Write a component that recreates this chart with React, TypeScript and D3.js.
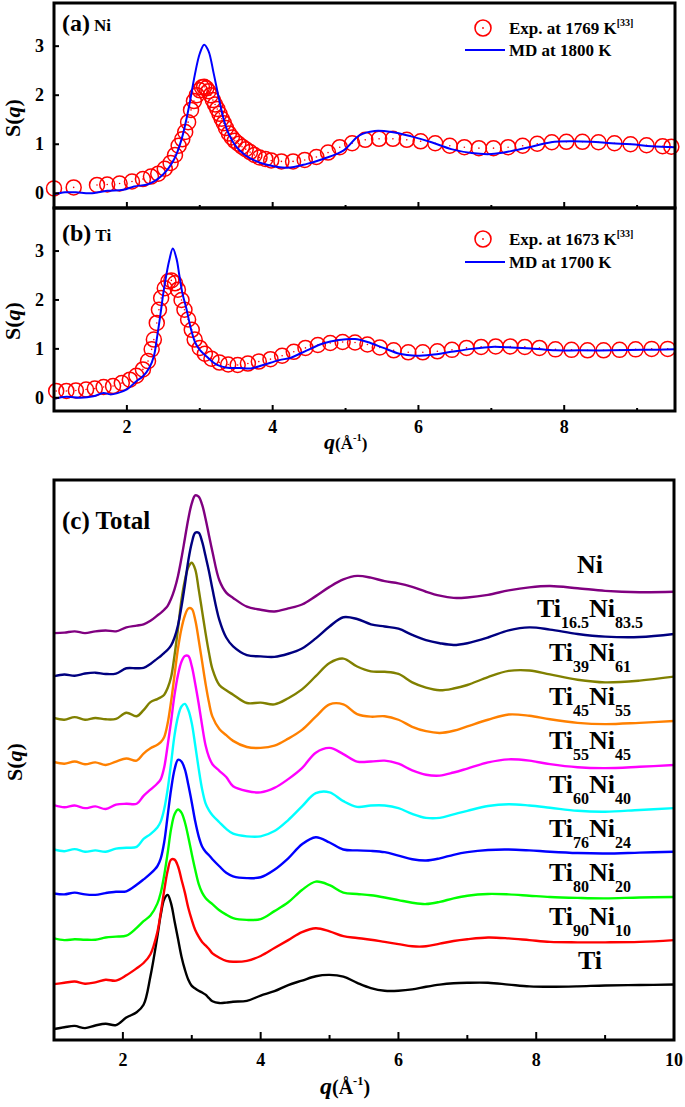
import React from "react";
import * as d3 from "d3";

// ---------------- Data ----------------
// Panel (a) Ni
const qNiExp = [1.0,1.27,1.59,1.73,1.9,2.07,2.22,2.33,2.43,2.52,2.6,2.66,2.71,2.76,2.8,2.84,2.88,2.92,2.96,3.0,3.03,3.06,3.09,3.12,3.15,3.18,3.21,3.24,3.27,3.3,3.33,3.36,3.4,3.44,3.48,3.53,3.58,3.63,3.69,3.75,3.82,3.9,3.98,4.12,4.28,4.44,4.6,4.76,4.92,5.09,5.27,5.46,5.65,5.84,6.03,6.23,6.43,6.63,6.83,7.03,7.23,7.43,7.63,7.83,8.03,8.25,8.47,8.69,8.91,9.13,9.35,9.47];
const sNiExp = [0.1,0.12,0.17,0.18,0.2,0.24,0.29,0.34,0.4,0.5,0.62,0.78,0.97,1.1,1.25,1.45,1.7,1.88,2.0,2.1,2.16,2.17,2.14,2.08,2.0,1.9,1.81,1.72,1.62,1.52,1.43,1.33,1.22,1.14,1.07,1.01,0.95,0.9,0.84,0.78,0.73,0.7,0.67,0.65,0.65,0.68,0.74,0.83,0.94,1.02,1.09,1.11,1.11,1.09,1.06,1.02,0.97,0.94,0.92,0.92,0.94,0.97,1.01,1.04,1.05,1.05,1.04,1.02,1.0,0.98,0.96,0.95];
const qNiMD = [1.0,1.15,1.3,1.5,1.73,1.95,2.1,2.3,2.5,2.65,2.75,2.85,2.93,3.0,3.06,3.12,3.19,3.26,3.33,3.4,3.5,3.62,3.75,3.92,4.2,4.47,4.69,4.97,5.19,5.4,5.63,5.9,6.18,6.45,6.73,7.0,7.27,7.55,7.82,8.1,8.37,8.65,8.92,9.2,9.52];
const sNiMD = [-0.02,0.02,0.02,0.0,0.05,0.07,0.14,0.19,0.39,0.7,1.1,1.75,2.4,2.85,3.03,2.9,2.45,1.95,1.5,1.2,0.95,0.78,0.67,0.58,0.52,0.6,0.7,0.87,1.18,1.27,1.25,1.16,1.04,0.9,0.82,0.8,0.86,0.95,1.04,1.06,1.05,1.02,1.0,0.96,0.94];

// Panel (b) Ti
const qTiExp = [1.03,1.17,1.3,1.44,1.56,1.68,1.81,1.93,2.04,2.13,2.22,2.29,2.34,2.37,2.41,2.44,2.47,2.52,2.57,2.61,2.66,2.7,2.75,2.79,2.84,2.89,2.93,3.0,3.07,3.16,3.27,3.39,3.52,3.66,3.81,3.97,4.13,4.29,4.45,4.62,4.79,4.96,5.13,5.3,5.47,5.66,5.86,6.06,6.26,6.46,6.66,6.86,7.06,7.26,7.46,7.66,7.88,8.1,8.32,8.54,8.76,8.98,9.2,9.42];
const sTiExp = [0.14,0.14,0.15,0.17,0.19,0.22,0.24,0.3,0.37,0.45,0.58,0.75,0.99,1.19,1.53,1.8,2.04,2.24,2.38,2.4,2.34,2.21,2.0,1.8,1.6,1.39,1.19,1.02,0.9,0.8,0.72,0.68,0.67,0.7,0.74,0.79,0.86,0.94,1.02,1.08,1.12,1.14,1.13,1.09,1.03,0.97,0.93,0.93,0.95,0.98,1.02,1.04,1.05,1.05,1.04,1.02,0.99,0.98,0.97,0.97,0.98,0.99,1.0,1.0];
const qTiMD = [1.0,1.17,1.36,1.54,1.68,1.77,1.86,2.0,2.13,2.22,2.31,2.37,2.41,2.46,2.5,2.54,2.58,2.63,2.68,2.72,2.76,2.82,2.88,2.94,3.0,3.09,3.23,3.41,3.55,3.7,3.87,4.09,4.25,4.47,4.69,4.91,5.13,5.3,5.52,5.74,5.96,6.18,6.45,6.73,7.0,7.27,7.55,7.88,8.2,8.65,9.08,9.52];
const sTiMD = [-0.02,0.02,0.0,0.03,0.1,0.07,0.09,0.17,0.34,0.44,0.62,0.85,1.2,1.7,2.14,2.5,2.8,3.05,2.85,2.5,2.15,1.8,1.4,1.12,0.98,0.85,0.68,0.61,0.61,0.6,0.67,0.77,0.82,0.97,1.11,1.18,1.2,1.14,1.02,0.9,0.86,0.88,0.94,1.0,1.04,1.03,1.01,0.97,0.97,0.97,0.98,0.99];

// Panel (c) total S(q), common q grid
const qTotal = [1.0,1.15,1.3,1.45,1.6,1.75,1.9,2.05,2.2,2.3,2.4,2.5,2.55,2.6,2.65,2.7,2.75,2.8,2.85,2.9,2.95,3.0,3.05,3.1,3.15,3.2,3.25,3.3,3.4,3.5,3.6,3.8,4.0,4.2,4.4,4.6,4.8,5.0,5.2,5.4,5.6,5.8,6.0,6.2,6.4,6.6,6.8,7.0,7.3,7.6,7.9,8.2,8.6,9.0,9.5,10.0];
const sTi = [0.0,0.04,0.07,0.02,0.08,0.12,0.09,0.26,0.38,0.55,1.2,2.1,2.6,2.95,3.05,2.85,2.45,2.05,1.65,1.35,1.12,0.98,0.92,0.87,0.83,0.78,0.7,0.63,0.59,0.6,0.62,0.64,0.76,0.86,1.0,1.1,1.2,1.23,1.19,1.05,0.93,0.87,0.87,0.9,0.96,1.01,1.04,1.05,1.05,1.01,0.97,0.96,0.97,0.99,1.0,1.01];
const sTi90Ni10 = [0.02,0.05,0.08,0.03,0.06,0.12,0.1,0.22,0.38,0.5,0.7,1.2,1.65,2.15,2.6,2.85,2.85,2.7,2.4,2.1,1.75,1.48,1.25,1.1,0.98,0.9,0.82,0.72,0.62,0.55,0.53,0.55,0.66,0.84,1.02,1.2,1.29,1.22,1.11,1.07,1.03,0.98,0.93,0.88,0.88,0.94,1.0,1.04,1.08,1.06,1.02,0.98,0.97,0.97,0.98,1.02];
const sTi80Ni20 = [0.06,0.02,0.04,0.03,0.03,0.08,0.1,0.12,0.3,0.45,0.58,0.85,1.1,1.5,2.0,2.55,2.88,2.99,2.92,2.7,2.36,1.98,1.62,1.3,1.1,0.98,0.9,0.84,0.7,0.6,0.52,0.48,0.5,0.68,0.88,1.16,1.35,1.27,1.1,1.07,1.04,0.99,0.93,0.87,0.84,0.89,0.97,1.03,1.07,1.06,1.03,1.0,0.98,0.97,0.99,1.0];
const sTi76Ni24 = [0.08,0.06,0.1,0.06,0.05,0.09,0.12,0.13,0.28,0.4,0.53,0.7,0.88,1.25,1.85,2.45,2.9,3.12,3.08,2.9,2.55,2.15,1.72,1.38,1.15,1.03,0.95,0.86,0.7,0.55,0.47,0.43,0.45,0.62,0.88,1.2,1.36,1.24,1.08,1.06,1.05,1.02,0.94,0.86,0.83,0.88,0.96,1.02,1.07,1.08,1.06,1.03,1.0,0.99,1.01,1.03];
const sTi60Ni40 = [0.08,0.04,0.09,0.03,0.06,0.03,0.1,0.12,0.14,0.32,0.43,0.58,0.72,1.0,1.45,2.05,2.68,3.1,3.33,3.39,3.25,2.95,2.45,1.92,1.45,1.13,0.97,0.86,0.7,0.55,0.44,0.38,0.38,0.5,0.75,1.06,1.36,1.38,1.18,1.05,1.08,1.08,1.02,0.89,0.8,0.8,0.88,0.96,1.07,1.11,1.08,1.03,0.96,0.94,0.98,1.02];
const sTi55Ni45 = [0.09,0.04,0.08,0.02,0.06,0.0,0.1,0.12,0.12,0.3,0.44,0.58,0.68,0.95,1.45,2.0,2.6,3.05,3.35,3.48,3.48,3.25,2.85,2.4,1.9,1.45,1.18,1.02,0.87,0.73,0.52,0.41,0.38,0.48,0.68,0.93,1.28,1.39,1.25,1.08,1.08,1.1,1.03,0.88,0.78,0.76,0.83,0.92,1.06,1.13,1.1,1.02,0.95,0.93,0.96,1.0];
const sTi45Ni55 = [0.07,0.03,0.08,0.02,0.06,0.0,0.08,0.15,0.1,0.26,0.38,0.46,0.52,0.64,0.95,1.45,2.05,2.65,3.1,3.4,3.56,3.55,3.3,2.85,2.35,1.85,1.42,1.1,0.82,0.68,0.55,0.41,0.39,0.44,0.6,0.8,1.1,1.38,1.38,1.16,1.1,1.11,1.03,0.87,0.77,0.73,0.78,0.88,1.03,1.15,1.12,1.04,0.96,0.93,0.96,1.0];
const sTi39Ni61 = [0.07,0.03,0.09,0.03,0.07,0.04,0.05,0.19,0.11,0.25,0.43,0.5,0.54,0.6,0.75,1.0,1.5,2.1,2.75,3.2,3.5,3.6,3.45,3.0,2.5,2.0,1.55,1.18,0.82,0.7,0.6,0.41,0.42,0.38,0.52,0.72,1.02,1.32,1.42,1.24,1.13,1.12,1.07,0.88,0.76,0.7,0.74,0.82,1.0,1.14,1.15,1.06,0.94,0.88,0.92,1.01];
const sTi16Ni83 = [0.02,0.06,0.03,0.08,0.1,0.07,0.08,0.2,0.2,0.21,0.3,0.42,0.48,0.55,0.62,0.72,0.9,1.18,1.6,2.1,2.65,3.05,3.28,3.28,3.08,2.75,2.4,2.0,1.3,0.9,0.7,0.5,0.47,0.46,0.53,0.65,0.88,1.15,1.36,1.32,1.2,1.15,1.1,0.96,0.84,0.77,0.73,0.77,0.9,1.06,1.13,1.08,0.98,0.92,0.91,0.98];
const sNi = [0.0,0.01,0.04,0.0,0.04,0.06,0.04,0.13,0.17,0.2,0.28,0.4,0.46,0.53,0.62,0.78,1.0,1.3,1.7,2.15,2.6,2.95,3.13,3.1,2.92,2.6,2.22,1.85,1.2,0.92,0.8,0.6,0.53,0.49,0.56,0.65,0.84,1.05,1.22,1.3,1.26,1.18,1.13,1.05,0.94,0.85,0.8,0.81,0.87,0.97,1.04,1.07,1.02,0.96,0.93,0.94];

// bottom-to-top order; each curve is shifted up by its index
const totalSeries = [
  { a: "Ti", as: "", b: "", bs: "", values: sTi, color: "#000000" },
  { a: "Ti", as: "90", b: "Ni", bs: "10", values: sTi90Ni10, color: "#FF0000" },
  { a: "Ti", as: "80", b: "Ni", bs: "20", values: sTi80Ni20, color: "#00FF00" },
  { a: "Ti", as: "76", b: "Ni", bs: "24", values: sTi76Ni24, color: "#0000FF" },
  { a: "Ti", as: "60", b: "Ni", bs: "40", values: sTi60Ni40, color: "#00FFFF" },
  { a: "Ti", as: "55", b: "Ni", bs: "45", values: sTi55Ni45, color: "#FF00FF" },
  { a: "Ti", as: "45", b: "Ni", bs: "55", values: sTi45Ni55, color: "#FF8000" },
  { a: "Ti", as: "39", b: "Ni", bs: "61", values: sTi39Ni61, color: "#808000" },
  { a: "Ti", as: "16.5", b: "Ni", bs: "83.5", values: sTi16Ni83, color: "#000080" },
  { a: "Ni", as: "", b: "", bs: "", values: sNi, color: "#800080" },
];

const xMajorAB = [2, 4, 6, 8];
const xMinorAB = [3, 5, 7, 9];
const yMajorAB = [0, 1, 2, 3];
const xMajorC = [2, 4, 6, 8, 10];
const xMinorC = [3, 5, 7, 9];

const FONT = "'Liberation Serif','Times New Roman',Times,serif";

function pathOf(xs: number[], ys: number[], xs_: any, ys_: any, off = 0) {
  const n = Math.min(xs.length, ys.length);
  const pts: [number, number][] = [];
  for (let i = 0; i < n; i++) pts.push([xs[i], ys[i] + off]);
  return d3
    .line<[number, number]>()
    .x((d) => xs_(d[0]))
    .y((d) => ys_(d[1]))
    .curve(d3.curveCatmullRom.alpha(0.5))(pts) as string;
}

function YLabel({ x, y }: { x: number; y: number }) {
  return (
    <text
      transform={`translate(${x},${y}) rotate(-90)`}
      textAnchor="middle"
      fontFamily={FONT}
      fontWeight="bold"
      fontSize={22}
    >
      S(<tspan fontStyle="italic">q</tspan>)
    </text>
  );
}

function XLabel({ x, y, big, small }: { x: number; y: number; big: number; small: number }) {
  return (
    <text x={x} y={y} fontFamily={FONT} fontWeight="bold" fontSize={small}>
      <tspan fontStyle="italic" fontSize={big}>q</tspan>
      <tspan>(Å</tspan>
      <tspan fontSize={small * 0.62} dy={-small * 0.45}>-1</tspan>
      <tspan dy={small * 0.45}>)</tspan>
    </text>
  );
}

function PanelAB(props: {
  id: string;
  x: any;
  y: any;
  qExp: number[];
  sExp: number[];
  qMD: number[];
  sMD: number[];
  label: string;
  elem: string;
  expText: string;
  mdText: string;
  leg: { c: number; t1: number; l: number; t2: number };
  labelY: number;
  showXLabels: boolean;
}) {
  const { x, y } = props;
  const [x0, x1] = x.range();
  const [yb, yt] = y.range();
  const n = Math.min(props.qExp.length, props.sExp.length);
  return (
    <g>
      <defs>
        <clipPath id={props.id}>
          <rect x={x0} y={yt} width={x1 - x0} height={yb - yt} />
        </clipPath>
      </defs>
      {/* experimental circles */}
      {d3.range(n).map((i) => (
        <g key={i}>
          <circle
            cx={x(props.qExp[i])}
            cy={y(props.sExp[i])}
            r={7.5}
            fill="none"
            stroke="#FF0000"
            strokeWidth={1.5}
          />
          <circle cx={x(props.qExp[i])} cy={y(props.sExp[i])} r={0.8} fill="#FF0000" />
        </g>
      ))}
      {/* MD line */}
      <path
        d={pathOf(props.qMD, props.sMD, x, y)}
        fill="none"
        stroke="#0000FF"
        strokeWidth={2}
        clipPath={`url(#${props.id})`}
      />
      {/* frame */}
      <rect x={x0} y={yt} width={x1 - x0} height={yb - yt} fill="none" stroke="#000" strokeWidth={3} />
      {/* ticks */}
      {xMajorAB.map((t) => (
        <line key={"M" + t} x1={x(t)} x2={x(t)} y1={yb} y2={yb - 6} stroke="#000" strokeWidth={2} />
      ))}
      {xMinorAB.map((t) => (
        <line key={"m" + t} x1={x(t)} x2={x(t)} y1={yb} y2={yb - 3} stroke="#000" strokeWidth={2} />
      ))}
      {yMajorAB.map((t) => (
        <g key={"y" + t}>
          <line x1={x0} x2={x0 + 5} y1={y(t)} y2={y(t)} stroke="#000" strokeWidth={2} />
          <text
            x={x0 - 10}
            y={y(t) + 6}
            textAnchor="end"
            fontFamily={FONT}
            fontWeight="bold"
            fontSize={18}
          >
            {t}
          </text>
        </g>
      ))}
      {props.showXLabels &&
        xMajorAB.map((t) => (
          <text
            key={"xl" + t}
            x={x(t)}
            y={yb + 22}
            textAnchor="middle"
            fontFamily={FONT}
            fontWeight="bold"
            fontSize={18}
          >
            {t}
          </text>
        ))}
      {/* panel label */}
      <text x={62} y={props.labelY} fontFamily={FONT} fontWeight="bold" fontSize={24}>
        {props.label}
        <tspan fontSize={17} dx={4}>{props.elem}</tspan>
      </text>
      {/* legend */}
      <circle cx={483} cy={props.leg.c} r={8} fill="none" stroke="#FF0000" strokeWidth={1.6} />
      <circle cx={483} cy={props.leg.c} r={0.9} fill="#FF0000" />
      <text x={509} y={props.leg.t1} fontFamily={FONT} fontWeight="bold" fontSize={17}>
        {props.expText}
        <tspan fontSize={10} dy={-8}>[33]</tspan>
      </text>
      <line x1={465} x2={505} y1={props.leg.l} y2={props.leg.l} stroke="#0000FF" strokeWidth={2} />
      <text x={509} y={props.leg.t2} fontFamily={FONT} fontWeight="bold" fontSize={17}>
        {props.mdText}
      </text>
    </g>
  );
}

export default function App() {
  const xAB = d3.scaleLinear().domain([1, 9.52]).range([54, 675]);
  const yA = d3.scaleLinear().domain([-0.3, 3.88]).range([208, 3]);
  const yB = d3.scaleLinear().domain([-0.27, 3.88]).range([411, 208]);
  const xC = d3.scaleLinear().domain([1, 10]).range([54, 674]);
  const yC = d3.scaleLinear().domain([-0.25, 12.48]).range([1040, 480]);

  const [cx0, cx1] = xC.range();
  const [cyb, cyt] = yC.range();

  return (
    <svg
      width={685}
      height={1107}
      style={{ position: "absolute", left: 0, top: 0, background: "#fff" }}
    >
      <rect x={0} y={0} width={685} height={1107} fill="#fff" />
      <PanelAB
        id="clipA"
        x={xAB}
        y={yA}
        qExp={qNiExp}
        sExp={sNiExp}
        qMD={qNiMD}
        sMD={sNiMD}
        label="(a)"
        elem="Ni"
        expText="Exp. at 1769 K"
        mdText="MD at 1800 K"
        leg={{ c: 28, t1: 34, l: 50, t2: 56 }}
        labelY={31}
        showXLabels={false}
      />
      <PanelAB
        id="clipB"
        x={xAB}
        y={yB}
        qExp={qTiExp}
        sExp={sTiExp}
        qMD={qTiMD}
        sMD={sTiMD}
        label="(b)"
        elem="Ti"
        expText="Exp. at 1673 K"
        mdText="MD at 1700 K"
        leg={{ c: 239, t1: 245, l: 262, t2: 268 }}
        labelY={241}
        showXLabels={true}
      />
      <YLabel x={20} y={118} />
      <YLabel x={20} y={321} />
      <XLabel x={324} y={449} big={22} small={17} />

      {/* Panel (c) */}
      <defs>
        <clipPath id="clipC">
          <rect x={cx0} y={cyt} width={cx1 - cx0} height={cyb - cyt} />
        </clipPath>
      </defs>
      <g clipPath="url(#clipC)">
        {totalSeries.map((s, i) => (
          <path
            key={i}
            d={pathOf(qTotal, s.values, xC, yC, i)}
            fill="none"
            stroke={s.color}
            strokeWidth={2.4}
          />
        ))}
      </g>
      <rect x={cx0} y={cyt} width={cx1 - cx0} height={cyb - cyt} fill="none" stroke="#000" strokeWidth={3} />
      {xMajorC.map((t) => (
        <g key={"cM" + t}>
          <line x1={xC(t)} x2={xC(t)} y1={cyb} y2={cyb - 8} stroke="#000" strokeWidth={2} />
          <text
            x={xC(t)}
            y={cyb + 26}
            textAnchor="middle"
            fontFamily={FONT}
            fontWeight="bold"
            fontSize={18}
          >
            {t}
          </text>
        </g>
      ))}
      {xMinorC.map((t) => (
        <line key={"cm" + t} x1={xC(t)} x2={xC(t)} y1={cyb} y2={cyb - 5} stroke="#000" strokeWidth={2} />
      ))}
      <text x={62} y={529} fontFamily={FONT} fontWeight="bold" fontSize={25}>
        (c) Total
      </text>
      {totalSeries.map((s, i) => (
        <text
          key={"lab" + i}
          x={590}
          y={yC(i + 1.37)}
          textAnchor="middle"
          fontFamily={FONT}
          fontWeight="bold"
          fontSize={26}
        >
          {s.a}
          {s.as && (
            <tspan fontSize={16} dy={11}>
              {s.as}
            </tspan>
          )}
          {s.b && (
            <tspan fontSize={26} dy={-11}>
              {s.b}
            </tspan>
          )}
          {s.bs && (
            <tspan fontSize={16} dy={11}>
              {s.bs}
            </tspan>
          )}
        </text>
      ))}
      <YLabel x={22} y={762} />
      <XLabel x={320} y={1094} big={24} small={20} />
    </svg>
  );
}
